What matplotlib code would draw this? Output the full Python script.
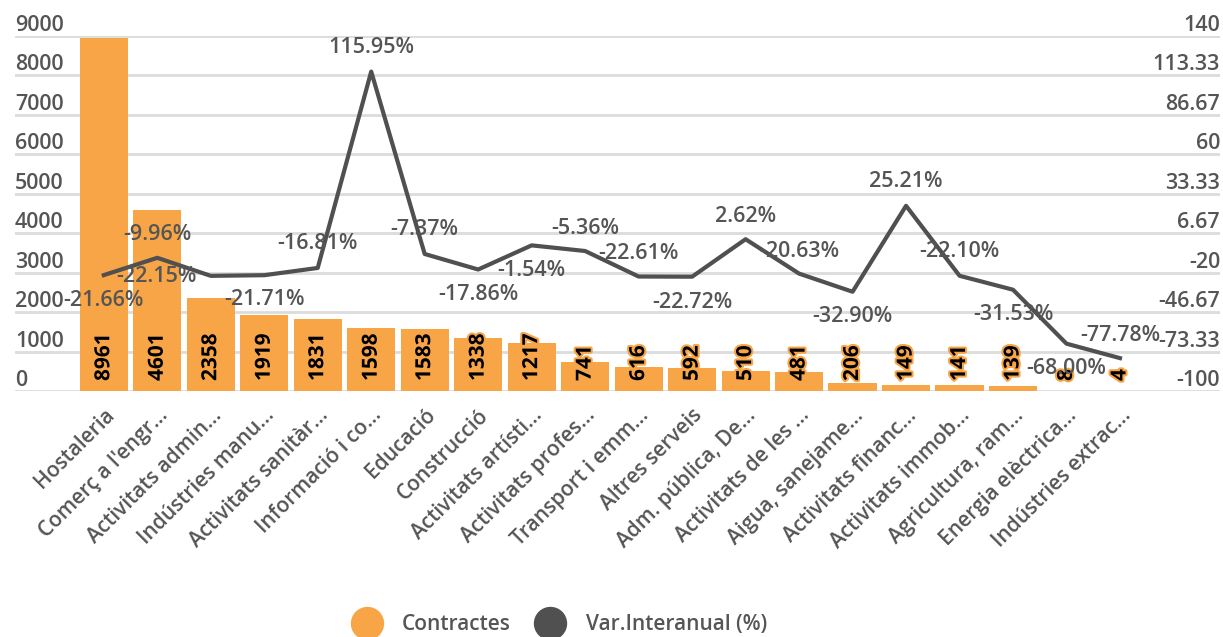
import matplotlib
matplotlib.use("Agg")
import matplotlib.pyplot as plt
import matplotlib.patheffects as pe
from matplotlib.lines import Line2D
import numpy as np

plt.rcParams['font.family'] = ['Open Sans', 'DejaVu Sans']

categories = ["Hostaleria", "Comerç a l'engr...", "Activitats admin...", "Indústries manu...",
              "Activitats sanitàr...", "Informació i co...", "Educació", "Construcció",
              "Activitats artísti...", "Activitats profes...", "Transport i emm...", "Altres serveis",
              "Adm. pública, De...", "Activitats de les ...", "Aigua, sanejame...", "Activitats financ...",
              "Activitats immob...", "Agricultura, ram...", "Energia elèctrica...", "Indústries extrac..."]
contractes = [8961, 4601, 2358, 1919, 1831, 1598, 1583, 1338, 1217, 741,
              616, 592, 510, 481, 206, 149, 141, 139, 8, 4]
var_interanual = [-21.66, -9.96, -22.15, -21.71, -16.81, 115.95, -7.37, -17.86, -1.54, -5.36,
                  -22.61, -22.72, 2.62, -20.63, -32.90, 25.21, -22.10, -31.53, -68.00, -77.78]
left_ticks = [0, 1000, 2000, 3000, 4000, 5000, 6000, 7000, 8000, 9000]
right_ticks = np.linspace(-100, 140, 10)

# label offsets for the line labels (pixels)
lab_off = [(0, -25), (0, 23), (-54, -1), (0, -24), (0, 24), (0, 24), (0, 24), (0, -25),
           (0, -25), (0, 23), (0, 23), (0, -26), (0, 23), (0, 22), (0, -25), (0, 24),
           (0, 24), (0, -25), (0, -25), (0, 23)]

ORANGE = '#F7A547'
DARK = '#505050'
TXT = '#555555'
GRID = '#DCDCDC'
W = 'semibold'

fig = plt.figure(figsize=(12.23, 6.37), dpi=100)
ax = fig.add_axes([15 / 1223, 1 - 391 / 637, 1205 / 1223, 355 / 637])
ax2 = ax.twinx()

x = np.arange(len(categories))
ax.bar(x, contractes, width=0.9, color=ORANGE, zorder=2)
ax.set_ylim(0, 9000)
ax.set_xlim(-1.66, 20.87)

for t in left_ticks:
    ax.axhline(t, color=GRID, lw=2, zorder=0)
    ax.text(0, t, str(t), transform=ax.get_yaxis_transform(), ha='left', va='bottom',
            fontsize=15.5, fontweight=W, color=TXT)

ax2.set_ylim(-100, 140)
for t in right_ticks:
    s = ('%.2f' % t).rstrip('0').rstrip('.')
    ax2.text(1, t, s, transform=ax2.get_yaxis_transform(), ha='right', va='bottom',
             fontsize=15.5, fontweight=W, color=TXT)

ax2.plot(x, var_interanual, color=DARK, lw=3, zorder=3)
for i, v in enumerate(var_interanual):
    ax2.annotate('%.2f%%' % v, (i, v), xytext=lab_off[i], textcoords='offset pixels',
                 ha='center', va='center', fontsize=15.5, fontweight=W, color=TXT, zorder=5)

for i, c in enumerate(contractes):
    ax.annotate(str(c), (i, 0), xytext=(0, 10), textcoords='offset pixels', rotation=90,
                ha='center', va='bottom', fontsize=15, fontweight='bold', color='black', zorder=4,
                path_effects=[pe.withStroke(linewidth=3, foreground=ORANGE)])

for a in (ax, ax2):
    a.set_yticks([])
    for s in a.spines.values():
        s.set_visible(False)
ax.set_xticks(x)
ax.set_xticklabels(categories, rotation=45, ha='right', rotation_mode='anchor',
                   fontsize=15, fontweight=W, color=TXT)
ax.tick_params(axis='x', length=0, pad=10)

handles = [Line2D([], [], marker='o', ls='', markersize=23, color=ORANGE),
           Line2D([], [], marker='o', ls='', markersize=23, color=DARK)]
leg = fig.legend(handles, ['Contractes', 'Var.Interanual (%)'], loc='center',
                 bbox_to_anchor=(0.455, 0.019), ncol=2, frameon=False, handletextpad=0.7,
                 columnspacing=0.9, prop={'size': 15, 'weight': W})
for t in leg.get_texts():
    t.set_color(TXT)

fig.savefig('out.png', dpi=100)
